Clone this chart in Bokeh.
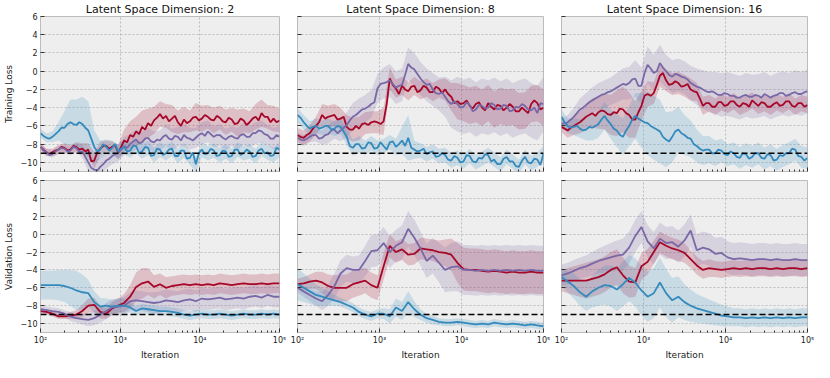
from bokeh.plotting import figure
from bokeh.layouts import column, row
from bokeh.models import Range1d, FixedTicker, Span
from bokeh.embed import file_html
from bokeh.resources import INLINE

# ---------------- data ----------------
# coarse grid (bands, validation curves)
ITER = [100, 119, 141, 168, 200, 237, 282, 335, 398, 473,
        562, 668, 794, 944, 1122, 1334, 1585, 1884, 2239, 2661,
        3162, 3758, 4467, 5309, 6310, 7499, 8913, 10593, 12589, 14962,
        17783, 21135, 25119, 29854, 35481, 42170, 50119, 59566, 70795, 84140,
        100000]
# fine grid (noisy training curves)
ITER_FINE = [100, 109, 119, 130, 141, 154, 168, 183, 200, 218,
             237, 259, 282, 307, 335, 365, 398, 434, 473, 516,
             562, 613, 668, 729, 794, 866, 944, 1029, 1122, 1223,
             1334, 1454, 1585, 1728, 1884, 2054, 2239, 2441, 2661, 2901,
             3162, 3447, 3758, 4097, 4467, 4870, 5309, 5788, 6310, 6879,
             7499, 8175, 8913, 9716, 10593, 11548, 12589, 13725, 14962, 16312,
             17783, 19387, 21135, 23041, 25119, 27384, 29854, 32546, 35481, 38681,
             42170, 45973, 50119, 54639, 59566, 64938, 70795, 77179, 84140, 91728,
             100000]

DIMS = ["2", "8", "16"]
BASELINE = -9
X_TICKS = [100, 1000, 10000, 100000]
X_TICK_LABELS = ["10²", "10³", "10⁴", "10⁵"]
Y_TICKS = [-10, -8, -6, -4, -2, 0, 2, 4, 6]
Y_TICK_LABELS = ["−10", "−8", "−6", "−4", "−2", "0", "2", "4", "6"]

# ===== Training loss, latent dim 2 =====
TR2_RED = [-8.3, -8.6, -8.9, -9.1, -8.9, -8.7, -8.6, -8.3, -8.4, -8.7,
           -8.6, -8.2, -8.3, -8.6, -8.5, -8.8, -8.6, -9.9, -9.8, -8.9,
           -8.5, -8.2, -8.2, -8.5, -8.3, -8.1, -8.9, -8.3, -7.6, -7.8,
           -7.0, -7.2, -6.6, -6.9, -6.1, -6.4, -5.7, -6.0, -5.4, -5.1,
           -4.7, -5.2, -4.9, -5.5, -5.2, -4.9, -5.6, -6.0, -5.3, -5.7,
           -5.5, -5.1, -5.0, -5.4, -5.2, -4.8, -5.0, -5.3, -5.4, -4.9,
           -5.1, -5.5, -5.6, -5.1, -5.3, -5.8, -5.7, -5.2, -5.4, -5.9,
           -5.6, -5.2, -5.0, -5.4, -4.6, -5.0, -5.0, -5.6, -5.2, -5.6,
           -5.4]
TR2_RED_SD = [0.4, 0.4, 0.4, 0.5, 0.5, 0.5, 0.5, 0.6, 0.7, 0.9,
              0.8, 0.6, 0.6, 0.8, 1.2, 1.5, 1.6, 1.8, 1.6, 1.5,
              1.4, 1.3, 1.5, 1.3, 1.4, 1.2, 1.5, 1.4, 1.3, 1.4,
              1.3, 1.4, 1.3, 1.5, 1.3, 1.2, 1.4, 1.5, 1.3, 1.4,
              1.3]
TR2_PUR = [-8.3, -8.7, -8.9, -9.2, -9.1, -8.8, -8.6, -8.4, -8.5, -8.8,
           -8.7, -8.3, -8.4, -8.9, -8.8, -9.4, -10.0, -10.6, -10.8, -10.9,
           -10.5, -10.2, -9.8, -9.6, -9.3, -9.1, -9.0, -8.6, -8.2, -8.4,
           -8.0, -7.7, -7.5, -7.9, -7.8, -7.4, -7.3, -7.7, -7.8, -7.5,
           -7.6, -7.2, -7.0, -7.4, -7.5, -7.1, -7.2, -7.6, -7.0, -7.3,
           -7.4, -7.6, -7.3, -7.0, -6.8, -7.1, -6.6, -6.9, -7.2, -7.0,
           -7.0, -7.3, -7.5, -7.2, -7.1, -7.3, -7.4, -7.0, -6.9, -7.2,
           -7.2, -6.8, -6.8, -6.5, -6.6, -6.9, -7.0, -7.4, -7.4, -7.0,
           -7.2]
TR2_PUR_SD = [0.4, 0.4, 0.4, 0.4, 0.5, 0.5, 0.5, 0.7, 1.0, 1.1,
              1.0, 0.9, 0.9, 0.9, 1.0, 1.1, 1.1, 1.2, 1.1, 1.2,
              1.1, 1.2, 1.2, 1.1, 1.2, 1.2, 1.1, 1.2, 1.2, 1.1,
              1.2, 1.2, 1.1, 1.2, 1.2, 1.1, 1.2, 1.2, 1.1, 1.2,
              1.2]
TR2_BLU = [-6.8, -7.1, -7.3, -7.4, -7.2, -6.9, -6.6, -6.2, -6.2, -5.8,
           -5.6, -5.8, -5.9, -5.6, -5.8, -6.2, -6.5, -7.4, -8.3, -8.8,
           -8.6, -8.0, -8.3, -8.7, -8.4, -8.0, -8.8, -8.5, -8.3, -8.8,
           -8.7, -8.2, -8.2, -9.0, -8.8, -8.3, -8.4, -9.3, -9.2, -8.5,
           -8.6, -9.2, -9.0, -8.6, -8.5, -9.3, -9.3, -8.7, -8.7, -9.6,
           -9.5, -8.9, -10.2, -9.0, -8.6, -9.1, -9.0, -8.5, -8.7, -9.3,
           -9.2, -8.7, -8.8, -9.4, -9.3, -8.6, -8.6, -9.2, -9.0, -8.6,
           -8.8, -9.4, -9.3, -8.7, -8.5, -9.0, -8.9, -9.3, -9.2, -8.4,
           -8.6]
TR2_BLU_SD = [0.5, 0.5, 0.6, 1.0, 1.8, 2.5, 2.8, 3.0, 3.2, 1.8,
              1.0, 0.8, 0.8, 0.8, 0.8, 0.8, 0.8, 0.8, 0.8, 0.8,
              0.8, 0.8, 0.8, 0.8, 0.8, 0.8, 0.8, 0.8, 0.8, 0.8,
              0.8, 0.8, 0.8, 0.8, 0.8, 0.8, 0.8, 0.8, 0.8, 0.8,
              0.8]

# ===== Training loss, latent dim 8 =====
TR8_RED = [-7.0, -7.2, -7.3, -7.0, -6.8, -6.3, -6.0, -5.6, -4.8, -5.2,
           -5.0, -4.9, -4.8, -5.3, -5.2, -5.0, -6.1, -6.4, -6.4, -6.0,
           -6.3, -5.8, -5.7, -5.9, -5.6, -5.5, -5.6, -5.8, -5.5, -3.6,
           -0.8, -1.5, -1.9, -2.5, -1.6, -2.0, -2.2, -1.7, -1.6, -2.3,
           -2.1, -1.6, -1.8, -2.3, -2.3, -1.7, -1.9, -2.4, -2.0, -2.5,
           -2.8, -3.5, -3.3, -3.6, -3.5, -3.2, -3.8, -4.1, -3.6, -3.4,
           -4.0, -4.3, -3.5, -3.9, -4.2, -3.7, -3.8, -4.3, -4.0, -3.6,
           -3.9, -4.4, -4.4, -4.0, -4.3, -4.6, -3.6, -3.2, -3.5, -4.2,
           -4.0]
TR8_RED_SD = [0.8, 0.8, 0.9, 1.0, 1.2, 1.2, 1.2, 1.2, 1.3, 1.3,
              1.3, 1.2, 1.2, 1.2, 1.5, 1.2, 1.0, 1.0, 1.0, 1.0,
              1.0, 1.0, 1.0, 1.0, 1.2, 1.5, 2.0, 2.0, 2.0, 2.0,
              2.0, 2.0, 2.0, 2.0, 2.0, 2.0, 2.0, 2.0, 2.0, 2.0,
              2.0]
TR8_PUR = [-7.3, -7.5, -7.6, -7.4, -7.2, -7.0, -7.0, -7.4, -7.3, -7.0,
           -6.9, -6.5, -6.4, -6.8, -6.5, -6.2, -5.9, -5.4, -5.0, -4.8,
           -4.5, -4.2, -4.1, -3.9, -3.6, -3.4, -1.9, -1.4, -1.3, -1.2,
           -1.0, -1.4, -1.8, -1.6, -1.5, -0.4, 0.8, 0.4, 0.2, -0.3,
           -0.8, -1.2, -1.5, -1.4, -2.0, -2.4, -2.5, -2.3, -2.8, -3.3,
           -3.6, -3.3, -3.6, -4.0, -3.9, -3.4, -3.7, -4.4, -4.2, -3.7,
           -3.8, -4.1, -4.0, -3.5, -3.7, -4.2, -4.1, -3.7, -3.8, -4.4,
           -4.3, -3.9, -4.0, -3.6, -3.8, -4.2, -4.3, -4.0, -4.6, -3.5,
           -3.6]
TR8_PUR_SD = [0.6, 0.6, 0.6, 0.7, 0.8, 1.0, 1.0, 1.2, 1.4, 1.5,
              1.5, 1.5, 1.5, 1.6, 1.7, 1.8, 1.8, 1.8, 1.8, 1.8,
              1.8, 1.8, 1.8, 1.8, 2.2, 2.6, 3.0, 3.0, 3.0, 3.0,
              3.0, 3.0, 3.0, 3.0, 3.0, 3.0, 3.0, 3.0, 3.0, 3.0,
              3.0]
TR8_BLU = [-4.8, -5.1, -5.6, -6.0, -6.3, -6.1, -6.0, -6.3, -6.2, -6.0,
           -6.0, -6.4, -6.3, -6.0, -6.1, -6.6, -7.2, -8.2, -8.4, -8.0,
           -8.0, -8.5, -8.4, -7.8, -7.9, -8.5, -8.4, -7.8, -8.2, -8.6,
           -7.8, -7.7, -8.3, -8.0, -7.6, -8.2, -7.3, -8.4, -8.6, -8.8,
           -8.7, -8.5, -9.1, -8.9, -8.8, -9.4, -9.3, -9.0, -9.2, -9.7,
           -9.8, -9.3, -9.5, -10.0, -9.9, -9.2, -9.3, -9.9, -10.0, -9.5,
           -9.6, -9.1, -9.2, -9.9, -9.7, -10.2, -10.2, -9.6, -9.4, -9.9,
           -9.9, -10.4, -10.5, -9.8, -9.4, -10.0, -10.1, -9.6, -9.7, -10.3,
           -9.0]
TR8_BLU_SD = [0.8, 0.8, 0.8, 0.8, 0.8, 0.8, 0.8, 0.8, 0.9, 0.9,
              0.9, 0.8, 0.8, 0.8, 0.8, 0.8, 0.9, 1.5, 2.5, 1.0,
              0.8, 0.8, 0.8, 0.8, 0.8, 0.8, 0.8, 0.8, 0.8, 0.8,
              0.8, 0.8, 0.8, 0.8, 0.8, 0.8, 0.8, 0.8, 0.8, 0.8,
              0.8]

# ===== Training loss, latent dim 16 =====
TR16_RED = [-6.1, -6.3, -6.5, -6.2, -6.0, -5.8, -5.6, -5.3, -5.0, -4.8,
            -4.6, -4.9, -4.5, -4.3, -4.4, -4.7, -4.8, -4.5, -4.6, -4.1,
            -4.2, -4.6, -4.8, -5.3, -5.3, -4.5, -3.8, -2.7, -2.5, -2.7,
            -2.4, -1.5, -0.5, -0.2, -1.0, -1.5, -1.4, -1.1, -1.3, -1.7,
            -1.6, -1.4, -2.0, -2.2, -2.3, -3.0, -3.8, -3.5, -3.5, -3.9,
            -3.9, -3.4, -3.4, -3.8, -3.7, -3.3, -3.3, -3.7, -3.9, -3.5,
            -3.6, -3.9, -3.2, -3.5, -3.8, -3.4, -3.5, -3.9, -3.9, -3.6,
            -3.4, -3.8, -3.7, -3.3, -3.3, -3.8, -3.9, -3.5, -3.5, -3.9,
            -3.7]
TR16_RED_SD = [0.6, 0.8, 1.0, 1.2, 1.4, 1.6, 1.8, 2.0, 2.2, 2.5,
               2.5, 2.5, 2.0, 1.6, 1.4, 1.2, 1.2, 1.2, 1.2, 1.2,
               1.2, 1.2, 1.0, 1.0, 0.9, 0.9, 0.9, 0.9, 0.9, 0.9,
               0.9, 0.9, 0.9, 0.9, 0.9, 0.9, 0.9, 0.9, 0.9, 0.9,
               0.9]
TR16_PUR = [-5.8, -5.7, -5.6, -5.3, -5.0, -4.6, -4.2, -4.0, -3.7, -3.4,
            -3.2, -3.0, -2.8, -2.6, -2.5, -2.3, -2.2, -2.0, -1.8, -1.6,
            -1.4, -1.5, -1.3, -0.9, -0.8, -1.6, -1.6, -0.2, 0.7, 0.3,
            -0.2, 0.0, 0.9, 0.4, 0.0, -0.4, -0.6, -0.3, -0.4, -0.6,
            -0.7, -0.9, -1.3, -1.5, -1.7, -1.8, -2.0, -2.2, -2.3, -2.2,
            -2.4, -2.6, -2.6, -2.4, -2.5, -2.7, -2.7, -2.9, -2.9, -2.7,
            -2.6, -2.8, -2.8, -2.6, -2.7, -2.9, -2.5, -2.7, -2.9, -2.7,
            -2.6, -2.4, -2.4, -2.7, -2.6, -2.4, -2.3, -2.5, -2.5, -2.3,
            -2.2]
TR16_PUR_SD = [0.6, 0.8, 1.0, 1.2, 1.3, 1.4, 1.5, 1.5, 1.5, 1.6,
               1.7, 1.8, 2.0, 2.0, 2.0, 2.0, 2.0, 1.8, 1.8, 1.8,
               1.8, 1.9, 2.0, 2.1, 2.2, 2.3, 2.4, 2.4, 2.4, 2.4,
               2.4, 2.4, 2.4, 2.4, 2.4, 2.4, 2.4, 2.4, 2.4, 2.4,
               2.4]
TR16_BLU = [-5.0, -5.6, -6.0, -6.2, -6.1, -6.0, -6.3, -6.5, -6.4, -6.1,
            -6.2, -6.0, -5.8, -5.3, -4.9, -5.4, -5.8, -6.3, -6.5, -7.0,
            -7.2, -6.5, -6.0, -5.3, -4.9, -5.2, -5.4, -5.6, -5.7, -6.0,
            -6.2, -6.4, -6.6, -7.2, -7.5, -7.7, -7.2, -6.6, -6.4, -6.8,
            -7.0, -7.3, -7.4, -8.0, -8.2, -8.5, -8.7, -8.6, -8.6, -9.0,
            -9.0, -8.6, -8.7, -9.1, -9.2, -8.8, -9.0, -9.4, -9.5, -9.0,
            -9.1, -9.6, -9.4, -9.0, -9.0, -9.5, -9.6, -9.1, -9.2, -9.8,
            -9.7, -9.2, -9.3, -9.0, -9.0, -8.5, -8.6, -9.3, -9.4, -9.8,
            -9.5]
TR16_BLU_SD = [0.8, 0.8, 0.9, 1.0, 1.2, 1.4, 1.5, 1.5, 1.6, 1.8,
               2.0, 2.2, 2.5, 3.0, 3.5, 3.5, 3.5, 3.0, 2.8, 2.5,
               2.2, 2.0, 1.8, 1.6, 1.5, 1.4, 1.3, 1.2, 1.2, 1.2,
               1.2, 1.2, 1.2, 1.2, 1.2, 1.2, 1.2, 1.2, 1.2, 1.2,
               1.2]

# ===== Validation loss, latent dim 2 =====
VA2_RED = [-8.6, -8.7, -8.9, -9.2, -9.2, -9.1, -9.0, -8.6, -8.0, -7.9,
           -8.7, -8.9, -8.3, -8.0, -7.7, -7.0, -5.9, -5.5, -5.3, -5.9,
           -5.6, -6.0, -5.8, -5.7, -5.6, -5.7, -5.6, -5.7, -5.6, -5.7,
           -5.5, -5.6, -5.7, -5.6, -5.5, -5.6, -5.6, -5.5, -5.6, -5.5,
           -5.5]
VA2_RED_SD = [0.3, 0.3, 0.3, 0.3, 0.3, 0.4, 0.5, 0.7, 0.8, 0.8,
              0.7, 0.6, 0.7, 0.8, 1.0, 1.3, 1.6, 1.7, 1.5, 1.3,
              1.2, 1.2, 1.1, 1.1, 1.1, 1.1, 1.1, 1.1, 1.1, 1.1,
              1.1, 1.1, 1.1, 1.1, 1.1, 1.1, 1.1, 1.1, 1.1, 1.1,
              1.1]
VA2_PUR = [-8.4, -8.5, -8.6, -8.7, -8.9, -9.2, -9.4, -9.5, -9.6, -9.4,
           -9.0, -8.6, -8.2, -8.1, -8.0, -7.5, -7.4, -7.5, -7.6, -7.7,
           -7.6, -7.4, -7.5, -7.6, -7.4, -7.3, -7.5, -7.2, -7.3, -7.2,
           -7.1, -7.3, -7.2, -7.1, -7.2, -7.0, -6.9, -7.1, -6.8, -7.0,
           -7.0]
VA2_PUR_SD = [0.4, 0.4, 0.4, 0.4, 0.4, 0.5, 0.5, 0.6, 0.7, 0.8,
              0.9, 0.9, 0.9, 0.9, 1.0, 1.0, 1.1, 1.1, 1.1, 1.2,
              1.2, 1.2, 1.2, 1.2, 1.2, 1.2, 1.2, 1.2, 1.2, 1.2,
              1.2, 1.2, 1.2, 1.2, 1.2, 1.2, 1.2, 1.2, 1.2, 1.2,
              1.2]
VA2_BLU = [-5.7, -5.7, -5.7, -5.7, -5.8, -6.0, -6.3, -6.5, -6.6, -7.6,
           -8.1, -8.0, -8.1, -8.0, -8.0, -8.2, -8.6, -8.3, -8.4, -8.5,
           -8.6, -8.6, -8.7, -8.8, -9.0, -9.1, -9.0, -8.9, -9.0, -9.0,
           -8.9, -9.0, -9.1, -9.0, -8.9, -9.0, -9.0, -8.9, -9.0, -8.9,
           -9.0]
VA2_BLU_SD = [1.6, 1.6, 1.6, 1.7, 1.8, 2.0, 2.2, 2.0, 1.5, 1.2,
              1.0, 0.8, 0.8, 0.8, 0.8, 0.6, 0.5, 0.5, 0.5, 0.5,
              0.5, 0.5, 0.5, 0.5, 0.5, 0.5, 0.5, 0.5, 0.5, 0.5,
              0.5, 0.5, 0.5, 0.5, 0.5, 0.5, 0.5, 0.5, 0.5, 0.5,
              0.5]

# ===== Validation loss, latent dim 8 =====
VA8_RED = [-5.6, -5.5, -5.3, -5.2, -5.4, -5.8, -6.0, -6.0, -6.0, -5.6,
           -5.4, -5.2, -5.7, -6.0, -3.6, -1.3, -2.0, -1.7, -2.3, -2.2,
           -1.6, -1.7, -1.8, -2.0, -2.1, -2.3, -3.2, -3.9, -4.0, -4.0,
           -4.1, -4.2, -4.1, -4.2, -4.3, -4.2, -4.3, -4.3, -4.2, -4.3,
           -4.3]
VA8_RED_SD = [0.6, 0.7, 0.8, 1.0, 1.2, 1.3, 1.4, 1.5, 1.5, 1.5,
              1.5, 1.4, 1.4, 1.4, 1.5, 1.3, 1.2, 1.2, 1.2, 1.2,
              1.2, 1.2, 1.2, 1.3, 1.5, 1.8, 2.2, 2.4, 2.4, 2.4,
              2.4, 2.4, 2.4, 2.4, 2.4, 2.4, 2.4, 2.4, 2.4, 2.4,
              2.4]
VA8_PUR = [-6.0, -6.4, -6.8, -7.2, -7.5, -6.8, -5.8, -4.4, -3.8, -4.0,
           -4.0, -3.0, -1.9, -1.8, -1.0, -2.0, -1.3, -0.9, 0.6, -0.4,
           -1.6, -3.0, -2.4, -3.2, -4.0, -3.7, -3.6, -4.0, -4.0, -4.1,
           -4.0, -4.1, -4.0, -4.1, -4.0, -4.1, -4.0, -4.1, -4.0, -4.1,
           -4.1]
VA8_PUR_SD = [0.5, 0.6, 0.7, 0.8, 1.0, 1.2, 1.4, 1.5, 1.5, 1.5,
              1.6, 1.7, 1.8, 1.8, 1.8, 1.8, 1.8, 1.9, 2.0, 2.0,
              1.9, 1.9, 2.0, 2.2, 2.5, 2.7, 2.8, 2.8, 2.8, 2.8,
              2.8, 2.8, 2.8, 2.8, 2.8, 2.8, 2.8, 2.8, 2.8, 2.8,
              2.8]
VA8_BLU = [-5.6, -6.0, -6.4, -6.8, -7.0, -7.2, -7.4, -7.6, -7.9, -8.2,
           -8.7, -9.0, -9.2, -8.9, -8.9, -9.2, -8.2, -8.6, -7.6, -8.4,
           -9.0, -9.4, -9.6, -9.8, -9.9, -9.9, -9.8, -9.9, -10.0, -10.1,
           -10.0, -10.1, -9.9, -10.0, -10.1, -10.0, -10.1, -10.2, -10.1, -10.2,
           -10.3]
VA8_BLU_SD = [1.8, 1.6, 1.4, 1.2, 1.0, 0.8, 0.6, 0.5, 0.5, 0.5,
              0.5, 0.5, 0.5, 0.5, 0.6, 0.8, 1.0, 1.0, 1.2, 0.9,
              0.6, 0.5, 0.5, 0.4, 0.4, 0.4, 0.4, 0.4, 0.4, 0.4,
              0.4, 0.4, 0.4, 0.4, 0.4, 0.4, 0.4, 0.4, 0.4, 0.4,
              0.4]

# ===== Validation loss, latent dim 16 =====
VA16_RED = [-5.2, -5.2, -5.2, -5.2, -5.2, -5.0, -4.8, -4.5, -4.0, -3.7,
            -4.6, -5.3, -5.4, -3.6, -3.1, -2.0, -0.9, -1.3, -1.6, -1.8,
            -2.1, -2.8, -3.5, -4.0, -3.8, -3.9, -4.0, -3.9, -3.8, -3.9,
            -3.8, -3.9, -3.8, -3.8, -3.9, -3.8, -3.9, -3.8, -3.8, -3.9,
            -3.8]
VA16_RED_SD = [1.2, 1.4, 1.6, 1.8, 2.0, 2.0, 2.0, 2.0, 2.0, 2.0,
               2.0, 1.8, 1.6, 1.5, 1.4, 1.3, 1.2, 1.2, 1.2, 1.2,
               1.1, 1.0, 1.0, 1.0, 1.0, 0.9, 0.9, 0.9, 0.9, 0.9,
               0.9, 0.9, 0.9, 0.9, 0.9, 0.9, 0.9, 0.9, 0.9, 0.9,
               0.9]
VA16_PUR = [-4.6, -4.4, -4.1, -3.8, -3.6, -3.3, -3.0, -2.8, -2.6, -2.4,
            -2.3, -1.5, -0.2, 0.8, -0.8, -1.6, -0.5, -1.0, -0.9, -1.4,
            -0.7, 0.4, -1.8, -1.5, -1.7, -2.2, -2.1, -2.6, -2.8, -2.7,
            -2.8, -2.9, -2.8, -2.8, -2.9, -2.8, -2.9, -2.9, -2.8, -2.9,
            -2.9]
VA16_PUR_SD = [1.2, 1.2, 1.2, 1.2, 1.2, 1.3, 1.4, 1.5, 1.6, 1.7,
               1.8, 1.8, 1.8, 1.8, 1.8, 1.8, 1.8, 1.8, 1.8, 1.8,
               1.8, 1.8, 1.8, 1.8, 1.8, 1.8, 1.8, 1.8, 1.8, 1.8,
               1.8, 1.8, 1.8, 1.8, 1.8, 1.8, 1.8, 1.8, 1.8, 1.8,
               1.8]
VA16_BLU = [-4.8, -5.3, -5.8, -6.5, -7.0, -6.4, -6.0, -5.7, -5.8, -6.2,
            -5.6, -4.9, -5.4, -6.3, -7.0, -6.6, -5.4, -6.6, -7.4, -7.0,
            -7.6, -8.0, -8.3, -8.5, -8.7, -8.9, -9.1, -9.2, -9.3, -9.3,
            -9.4, -9.3, -9.4, -9.3, -9.4, -9.3, -9.4, -9.3, -9.4, -9.3,
            -9.3]
VA16_BLU_SD = [1.0, 1.2, 1.4, 1.5, 1.6, 1.8, 2.0, 2.2, 2.3, 2.4,
               2.5, 2.6, 2.7, 2.8, 2.8, 2.8, 2.8, 2.7, 2.5, 2.3,
               2.0, 1.8, 1.6, 1.5, 1.4, 1.3, 1.2, 1.1, 1.0, 1.0,
               1.0, 1.0, 1.0, 1.0, 1.0, 1.0, 1.0, 1.0, 1.0, 1.0,
               1.0]

RED, PURPLE, BLUE = "#A60628", "#7A68A6", "#348ABD"

PANELS = [
    [(TR2_RED, TR2_RED_SD, TR2_PUR, TR2_PUR_SD, TR2_BLU, TR2_BLU_SD),
     (TR8_RED, TR8_RED_SD, TR8_PUR, TR8_PUR_SD, TR8_BLU, TR8_BLU_SD),
     (TR16_RED, TR16_RED_SD, TR16_PUR, TR16_PUR_SD, TR16_BLU, TR16_BLU_SD)],
    [(VA2_RED, VA2_RED_SD, VA2_PUR, VA2_PUR_SD, VA2_BLU, VA2_BLU_SD),
     (VA8_RED, VA8_RED_SD, VA8_PUR, VA8_PUR_SD, VA8_BLU, VA8_BLU_SD),
     (VA16_RED, VA16_RED_SD, VA16_PUR, VA16_PUR_SD, VA16_BLU, VA16_BLU_SD)],
]
LINE_X = [ITER_FINE, ITER]
ROW_LABELS = ["Training Loss", "Validation Loss"]

# ---------------- layout ----------------
FW, FH = 246, 157
FONT = "DejaVu Sans"
MINOR = [m * 10 ** k for k in (2, 3, 4) for m in range(2, 10)]


def make_panel(r, c, series):
    left = 33 if c == 0 else 9
    right = 10 if c == 2 else 9
    top = 14 if r == 0 else 5
    bottom = 4 if r == 0 else 25
    p = figure(width=left + FW + right, height=top + FH + bottom,
               x_axis_type="log", x_range=Range1d(100, 100000),
               y_range=Range1d(-11, 6), output_backend="svg",
               toolbar_location=None,
               min_border_left=left, min_border_right=right,
               min_border_top=top, min_border_bottom=bottom,
               title=("Latent Space Dimension: " + DIMS[c]) if r == 0 else None)
    p.background_fill_color = "#eeeeee"
    p.border_fill_color = "white"
    p.outline_line_color = "#bcbcbc"
    p.outline_line_width = 1
    if r == 0:
        p.title.text_font = FONT
        p.title.text_font_size = "11px"
        p.title.text_font_style = "normal"
        p.title.align = "center"
        p.title.standoff = 1
        p.title.text_color = "#111111"

    xa, ya = p.xaxis[0], p.yaxis[0]
    xa.ticker = FixedTicker(ticks=X_TICKS, minor_ticks=MINOR)
    ya.ticker = FixedTicker(ticks=Y_TICKS)
    for ax in (xa, ya):
        ax.axis_line_color = None
        ax.major_tick_in = 4
        ax.major_tick_out = 0
        ax.major_tick_line_color = "#333333"
        ax.minor_tick_line_color = "#333333"
        ax.major_label_text_font = FONT
        ax.major_label_text_font_size = "8px"
        ax.major_label_text_color = "#222222"
        ax.axis_label_text_font = FONT
        ax.axis_label_text_font_size = "9px"
        ax.axis_label_text_font_style = "normal"
        ax.axis_label_text_color = "#222222"
    xa.minor_tick_in = 2
    xa.minor_tick_out = 0
    ya.minor_tick_line_color = None
    xa.major_label_standoff = 3
    ya.major_label_standoff = 3
    if r == 1:
        xa.major_label_overrides = dict(zip(X_TICKS, X_TICK_LABELS))
        xa.axis_label = "Iteration"
        xa.axis_label_standoff = 2
    else:
        xa.major_label_overrides = {t: "" for t in X_TICKS}
        xa.major_label_standoff = 0
    if c == 0:
        ya.major_label_overrides = dict(zip(Y_TICKS, Y_TICK_LABELS))
        ya.axis_label = ROW_LABELS[r]
        ya.axis_label_standoff = 4
    else:
        ya.major_label_overrides = {t: "" for t in Y_TICKS}
        ya.major_label_standoff = 0

    for g in (p.xgrid[0], p.ygrid[0]):
        g.grid_line_color = "#b0b0b0"
        g.grid_line_dash = "2 2"
        g.grid_line_width = 0.8

    red, red_sd, pur, pur_sd, blu, blu_sd = series
    # bands: mean at the coarse grid points (every 2nd fine point for training rows)
    step = 2 if r == 0 else 1
    for mean, sd, col in ((red, red_sd, RED), (pur, pur_sd, PURPLE), (blu, blu_sd, BLUE)):
        m = mean[::step]
        lo = [a - s for a, s in zip(m, sd)]
        hi = [a + s for a, s in zip(m, sd)]
        p.varea(x=ITER, y1=lo, y2=hi, fill_color=col, fill_alpha=0.2)
    for mean, col in ((red, RED), (pur, PURPLE), (blu, BLUE)):
        p.line(x=LINE_X[r], y=mean, line_color=col, line_width=1.8)

    p.add_layout(Span(location=BASELINE, dimension="width", line_color="black",
                      line_dash="6 3", line_width=1.5))
    return p


rows = []
for r in range(2):
    rows.append(row(*[make_panel(r, c, PANELS[r][c]) for c in range(3)], spacing=0))
layout = column(*rows, spacing=0)

open("out.html", "w").write(file_html(layout, INLINE))
